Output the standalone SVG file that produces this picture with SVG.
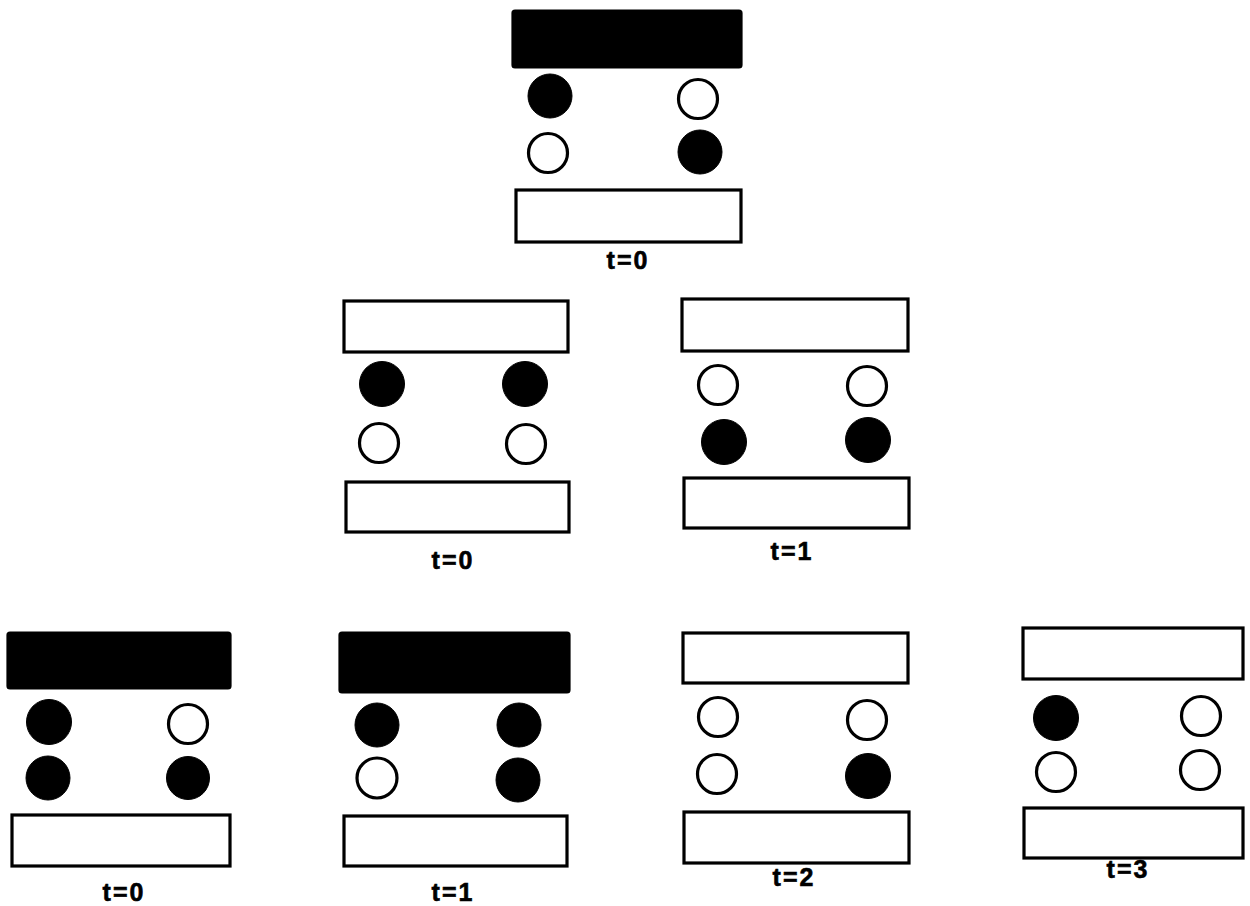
<svg xmlns="http://www.w3.org/2000/svg" width="1250" height="906" viewBox="0 0 1250 906">
  <style>
    .bar { fill: #fff; stroke: #000; stroke-width: 3.2; }
    .bar.on { fill: #000; }
    .dot { fill: #fff; stroke: #000; stroke-width: 3.2; }
    .dot.on { fill: #000; stroke-width: 1; }
    .lbl { font-family: "Liberation Sans", Arial, sans-serif; font-weight: bold; font-size: 25px; letter-spacing: 2px; text-anchor: middle; fill: #000; stroke: #000; stroke-width: 0.6; }
  </style>
  <rect width="1250" height="906" fill="#fff"/>

  <!-- row 1 -->
  <g id="panel-a">
    <rect class="bar on" x="513" y="11" width="228" height="56" rx="2"/>
    <circle class="dot on" cx="550" cy="96" r="22"/>
    <circle class="dot" cx="698" cy="99" r="19.5"/>
    <circle class="dot" cx="548" cy="153" r="19.5"/>
    <circle class="dot on" cx="700" cy="152" r="22"/>
    <rect class="bar" x="516" y="190" width="225" height="52"/>
    <text class="lbl" x="628" y="269">t=0</text>
  </g>

  <!-- row 2 -->
  <g id="panel-b">
    <rect class="bar" x="344" y="301" width="224" height="51"/>
    <circle class="dot on" cx="382" cy="384" r="22.5"/>
    <circle class="dot on" cx="525" cy="384" r="22.5"/>
    <circle class="dot" cx="379" cy="443" r="19.5"/>
    <circle class="dot" cx="526" cy="444" r="19.5"/>
    <rect class="bar" x="346" y="482" width="223" height="50"/>
    <text class="lbl" x="453" y="569">t=0</text>
  </g>

  <g id="panel-c">
    <rect class="bar" x="682" y="299" width="226" height="52"/>
    <circle class="dot" cx="718" cy="385" r="19.5"/>
    <circle class="dot" cx="867" cy="386" r="19.5"/>
    <circle class="dot on" cx="724" cy="442" r="22.5"/>
    <circle class="dot on" cx="868" cy="440" r="22.5"/>
    <rect class="bar" x="684" y="478" width="225" height="50"/>
    <text class="lbl" x="792" y="560">t=1</text>
  </g>

  <!-- row 3 -->
  <g id="panel-d">
    <rect class="bar on" x="8" y="633" width="222" height="55" rx="2"/>
    <circle class="dot on" cx="49" cy="722" r="22.5"/>
    <circle class="dot" cx="188" cy="724" r="19.5"/>
    <circle class="dot on" cx="48" cy="778" r="22"/>
    <circle class="dot on" cx="188" cy="778" r="21.5"/>
    <rect class="bar" x="12" y="815" width="218" height="51"/>
    <text class="lbl" x="124" y="901">t=0</text>
  </g>

  <g id="panel-e">
    <rect class="bar on" x="340" y="633" width="229" height="59" rx="2"/>
    <circle class="dot on" cx="377" cy="725" r="22"/>
    <circle class="dot on" cx="519" cy="725" r="22"/>
    <circle class="dot" cx="377" cy="778" r="20"/>
    <circle class="dot on" cx="518" cy="780" r="22"/>
    <rect class="bar" x="344" y="816" width="223" height="50"/>
    <text class="lbl" x="453" y="901">t=1</text>
  </g>

  <g id="panel-f">
    <rect class="bar" x="683" y="633" width="225" height="50"/>
    <circle class="dot" cx="718" cy="717" r="19.5"/>
    <circle class="dot" cx="867" cy="720" r="19.5"/>
    <circle class="dot" cx="717" cy="774" r="19.5"/>
    <circle class="dot on" cx="868" cy="776" r="22.5"/>
    <rect class="bar" x="684" y="812" width="225" height="51"/>
    <text class="lbl" x="794" y="886">t=2</text>
  </g>

  <g id="panel-g">
    <rect class="bar" x="1023" y="628" width="220" height="51"/>
    <circle class="dot on" cx="1056" cy="718" r="22.5"/>
    <circle class="dot" cx="1201" cy="716" r="19.5"/>
    <circle class="dot" cx="1056" cy="772" r="19.5"/>
    <circle class="dot" cx="1200" cy="770" r="19.5"/>
    <rect class="bar" x="1024" y="808" width="219" height="50"/>
    <text class="lbl" x="1128" y="878">t=3</text>
  </g>

  <!-- no connectors are drawn between the panels -->
  <g id="connectors"/>
</svg>
